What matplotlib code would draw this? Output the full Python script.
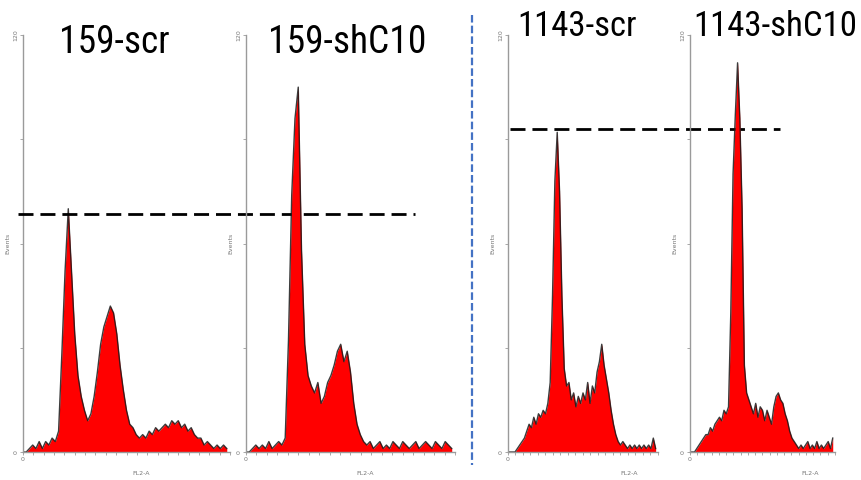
import numpy as np
import matplotlib.pyplot as plt
from matplotlib.lines import Line2D

# FL2-A channel (bin start), 4-channel bins
channels = np.arange(0, 256, 4)

counts_159_scr = [0, 0, 1, 2, 1, 3, 1, 3, 2, 4,
                  3, 6, 28, 52, 70, 52, 34, 22, 16, 12,
                  9, 11, 16, 23, 31, 36, 39, 42, 40, 34,
                  25, 18, 12, 8, 7, 5, 4, 5, 4, 6,
                  5, 7, 6, 7, 8, 7, 9, 8, 9, 7,
                  8, 6, 7, 5, 4, 4, 2, 3, 2, 1,
                  2, 1, 2, 1]
counts_159_sh = [0, 0, 1, 2, 1, 2, 1, 3, 1, 2,
                 3, 2, 4, 32, 74, 96, 105, 58, 31, 22,
                 19, 17, 20, 14, 16, 20, 22, 25, 29, 31,
                 26, 29, 23, 14, 8, 5, 3, 2, 3, 1,
                 2, 3, 1, 2, 1, 3, 2, 1, 3, 2,
                 1, 2, 3, 1, 2, 3, 2, 1, 3, 2,
                 1, 3, 2, 1]
counts_1143_scr = [0, 0, 0, 0, 1, 2, 3, 4, 6, 8,
                   7, 10, 8, 11, 10, 12, 11, 14, 20, 45,
                   78, 92, 75, 45, 24, 19, 20, 15, 17, 13,
                   16, 14, 17, 15, 20, 14, 19, 17, 23, 26,
                   31, 25, 21, 17, 12, 8, 5, 3, 2, 3,
                   2, 1, 2, 1, 2, 1, 2, 1, 2, 1,
                   2, 1, 4, 1]
counts_1143_sh = [0, 0, 0, 1, 2, 3, 4, 5, 5, 7,
                  6, 8, 9, 10, 9, 12, 11, 13, 40, 80,
                  97, 112, 96, 70, 25, 17, 15, 13, 11, 14,
                  10, 13, 12, 9, 12, 10, 8, 13, 16, 17,
                  15, 14, 11, 9, 6, 4, 3, 2, 1, 2,
                  1, 2, 3, 1, 2, 1, 3, 1, 2, 1,
                  2, 3, 1, 4]

titles = ['159-scr', '159-shC10', '1143-scr', '1143-shC10']
series = [counts_159_scr, counts_159_sh, counts_1143_scr, counts_1143_sh]
y_ticks = [0, 30, 60, 90, 120]
y_ticklabels = ['0', '', '', '', '120']
ref_159 = 68.5    # G1 peak level of 159-scr
ref_1143 = 93     # G1 peak level of 1143-scr

W, H = 862, 480
fig = plt.figure(figsize=(W / 100, H / 100), dpi=100)

# panel boxes in pixels: left, width ; xlabel position along axis
boxes = [(23, 207, 0.57), (246, 209, 0.57), (508, 150, 0.81), (690, 145, 0.83)]
top, bottom = 35, 452
axes = []
for (left, width, xl), counts in zip(boxes, series):
    ax = fig.add_axes([left / W, 1 - bottom / H, width / W, (bottom - top) / H])
    ax.patch.set_visible(False)
    ax.fill_between(channels, counts, color='#ff0000', lw=0)
    ax.plot(channels, counts, color='#1a1a1a', lw=1.0, alpha=0.85)
    ax.set_xlim(0, 256)
    ax.set_ylim(0, 120)
    for s in ['top', 'right']:
        ax.spines[s].set_visible(False)
    for s in ['left', 'bottom']:
        ax.spines[s].set_color('#9a9a9a')
        ax.spines[s].set_linewidth(1.0)
    ax.set_yticks(y_ticks)
    ax.set_yticklabels(y_ticklabels, rotation=90, va='center')
    ax.set_xticks([0])
    ax.set_xticklabels(['0'])
    ax.set_xticks(np.linspace(0, 256, 21), minor=True)
    ax.tick_params(axis='both', length=2, width=0.6, color='#9a9a9a',
                   labelsize=4.5, labelcolor='#777777', pad=1.5)
    ax.tick_params(axis='x', which='minor', length=2, width=0.6, color='#9a9a9a')
    ax.set_ylabel('Events', fontsize=4.5, color='#777777', labelpad=2)
    ax.set_xlabel('FL2-A', fontsize=4.5, color='#777777')
    ax.xaxis.set_label_coords(xl, -0.045)
    axes.append(ax)

# titles
title_font = ['Liberation Sans Narrow', 'Roboto Condensed', 'DejaVu Sans Condensed',
              'Liberation Sans', 'DejaVu Sans']
fig.text(114 / W, 1 - 53 / H, titles[0], ha='center', va='baseline',
         fontsize=27, family=title_font)
fig.text(347 / W, 1 - 53 / H, titles[1], ha='center', va='baseline',
         fontsize=27, family=title_font)
fig.text(577 / W, 1 - 36 / H, titles[2], ha='center', va='baseline',
         fontsize=25, family=title_font)
fig.text(693 / W, 1 - 36 / H, titles[3], ha='left', va='baseline',
         fontsize=25, family=title_font)

# reference dashed lines
axes[0].axhline(ref_159, xmin=-0.024, xmax=1.894, color='black', lw=2,
                dashes=(5.4, 2.5), clip_on=False, zorder=5)
axes[2].axhline(ref_1143, xmin=0.013, xmax=1.813, color='black', lw=2,
                dashes=(5.4, 2.5), clip_on=False, zorder=5)

# blue separator
fig.add_artist(Line2D([472 / W, 472 / W], [1 - 15 / H, 1 - 465 / H],
                      transform=fig.transFigure, color='#4472c4', lw=1.6,
                      dashes=(3.4, 1.4)))

fig.savefig('out.png', dpi=100)
